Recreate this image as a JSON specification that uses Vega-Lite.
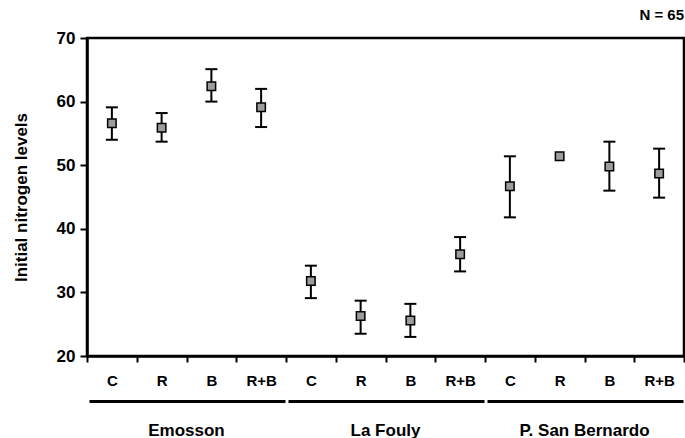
{
  "$schema": "https://vega.github.io/schema/vega-lite/v6.json",
  "autosize": "none",
  "padding": {"left": 87, "top": 38, "right": 1, "bottom": 82},
  "width": 597,
  "height": 318,
  "title": {
    "text": "N = 65",
    "anchor": "end",
    "frame": "group",
    "font": "Liberation Sans",
    "fontSize": 15,
    "fontWeight": "bold",
    "color": "black",
    "baseline": "alphabetic",
    "offset": -6
  },
  "config": {
    "font": "Liberation Sans",
    "view": {"stroke": "black", "strokeWidth": 2.5},
    "axis": {"labelColor": "black", "titleColor": "black", "grid": false}
  },
  "data": {
    "values": [
      {"site": "Emosson", "cell": "Emosson C", "mean": 56.6, "lo": 54.0, "hi": 59.1},
      {"site": "Emosson", "cell": "Emosson R", "mean": 55.9, "lo": 53.7, "hi": 58.2},
      {"site": "Emosson", "cell": "Emosson B", "mean": 62.4, "lo": 60.0, "hi": 65.1},
      {"site": "Emosson", "cell": "Emosson R+B", "mean": 59.1, "lo": 56.0, "hi": 62.0},
      {"site": "La Fouly", "cell": "La Fouly C", "mean": 31.8, "lo": 29.1, "hi": 34.2},
      {"site": "La Fouly", "cell": "La Fouly R", "mean": 26.3, "lo": 23.5, "hi": 28.7},
      {"site": "La Fouly", "cell": "La Fouly B", "mean": 25.6, "lo": 23.0, "hi": 28.2},
      {"site": "La Fouly", "cell": "La Fouly R+B", "mean": 36.0, "lo": 33.3, "hi": 38.7},
      {"site": "P. San Bernardo", "cell": "P. San Bernardo C", "mean": 46.7, "lo": 41.8, "hi": 51.4},
      {"site": "P. San Bernardo", "cell": "P. San Bernardo R", "mean": 51.4, "lo": null, "hi": null},
      {"site": "P. San Bernardo", "cell": "P. San Bernardo B", "mean": 49.8, "lo": 46.0, "hi": 53.7},
      {"site": "P. San Bernardo", "cell": "P. San Bernardo R+B", "mean": 48.7, "lo": 44.9, "hi": 52.6}
    ]
  },
  "layer": [
    {
      "mark": {"type": "rect", "opacity": 0},
      "encoding": {
        "x": {
          "field": "site",
          "type": "nominal",
          "sort": null,
          "scale": {"paddingInner": 0, "paddingOuter": 0},
          "axis": {
            "orient": "bottom",
            "offset": 45,
            "title": null,
            "ticks": false,
            "tickSize": 0,
            "domainColor": "black",
            "domainWidth": 3,
            "domainCap": "butt",
            "domainDash": [196, 3],
            "domainDashOffset": 197,
            "labelAngle": 0,
            "labelFontSize": 17,
            "labelFontWeight": "bold",
            "labelBaseline": "alphabetic",
            "labelPadding": 34
          }
        }
      }
    },
    {
      "encoding": {
        "x": {
          "field": "cell",
          "type": "nominal",
          "sort": null,
          "scale": {
            "domain": [
              "Emosson C", "Emosson R", "Emosson B", "Emosson R+B",
              "La Fouly C", "La Fouly R", "La Fouly B", "La Fouly R+B",
              "P. San Bernardo C", "P. San Bernardo R", "P. San Bernardo B", "P. San Bernardo R+B"
            ],
            "paddingInner": 0,
            "paddingOuter": 0
          },
          "axis": {
            "orient": "bottom",
            "title": null,
            "tickBand": "extent",
            "tickSize": 6,
            "tickWidth": 2,
            "tickColor": "black",
            "domainColor": "black",
            "domainWidth": 2.5,
            "labelExpr": "peek(split(datum.label, ' '))",
            "labelAngle": 0,
            "labelFontSize": 15,
            "labelFontWeight": "bold",
            "labelBaseline": "alphabetic",
            "labelPadding": 23
          }
        }
      },
      "layer": [
        {
          "mark": {"type": "rule", "color": "black", "strokeWidth": 2},
          "encoding": {
            "y": {
              "field": "lo",
              "type": "quantitative",
              "scale": {"domain": [20, 70], "nice": false, "zero": false},
              "axis": {
                "title": "Initial nitrogen levels",
                "values": [20, 30, 40, 50, 60, 70],
                "tickSize": 7,
                "tickWidth": 2,
                "tickColor": "black",
                "domainColor": "black",
                "domainWidth": 2.5,
                "labelFontSize": 17,
                "labelFontWeight": "bold",
                "labelPadding": 5,
                "titleFontSize": 17,
                "titleFontWeight": "bold",
                "titlePadding": 26
              }
            },
            "y2": {"field": "hi"}
          }
        },
        {
          "mark": {"type": "tick", "color": "black", "size": 12, "thickness": 2, "orient": "horizontal", "opacity": 1},
          "encoding": {"y": {"field": "hi", "type": "quantitative"}}
        },
        {
          "mark": {"type": "tick", "color": "black", "size": 12, "thickness": 2, "orient": "horizontal", "opacity": 1},
          "encoding": {"y": {"field": "lo", "type": "quantitative"}}
        },
        {
          "mark": {"type": "point", "shape": "square", "filled": true, "fill": "#9c9c9c", "stroke": "black", "strokeWidth": 1.5, "size": 72, "opacity": 1},
          "encoding": {"y": {"field": "mean", "type": "quantitative"}}
        }
      ]
    }
  ],
  "resolve": {"scale": {"x": "independent"}, "axis": {"x": "independent"}}
}
